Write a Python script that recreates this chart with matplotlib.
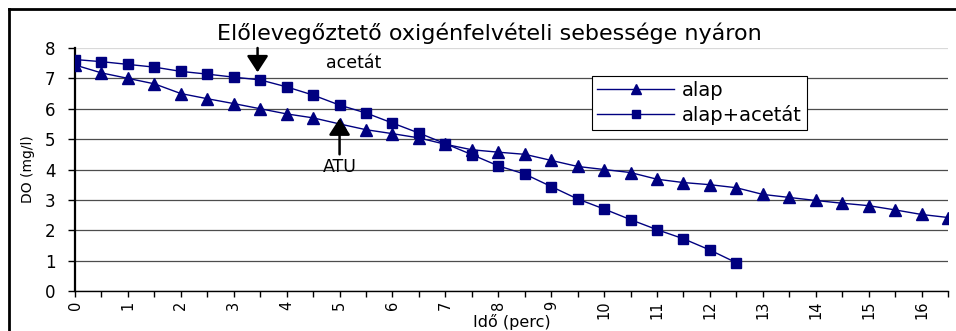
import matplotlib
matplotlib.use("Agg")
import matplotlib.pyplot as plt
from matplotlib.lines import Line2D

plt.rcParams['font.family'] = ['DejaVu Sans']

# Time axis (minutes) and dissolved oxygen readings (mg/l)
minutes = [0, 0.5, 1, 1.5, 2, 2.5, 3, 3.5, 4, 4.5, 5, 5.5, 6, 6.5, 7, 7.5,
           8, 8.5, 9, 9.5, 10, 10.5, 11, 11.5, 12, 12.5, 13, 13.5, 14, 14.5,
           15, 15.5, 16, 16.5]
alap = [7.44, 7.18, 7.00, 6.82, 6.50, 6.33, 6.17, 6.00, 5.83, 5.70, 5.50,
        5.31, 5.18, 5.04, 4.83, 4.65, 4.57, 4.50, 4.30, 4.10, 4.00, 3.90,
        3.68, 3.57, 3.50, 3.40, 3.18, 3.08, 2.98, 2.89, 2.81, 2.67, 2.52,
        2.42]
alap_acetat = [7.62, 7.55, 7.46, 7.37, 7.23, 7.14, 7.04, 6.95, 6.72, 6.45,
               6.12, 5.86, 5.53, 5.20, 4.85, 4.49, 4.12, 3.85, 3.44, 3.03,
               2.70, 2.35, 2.02, 1.72, 1.35, 0.93]

series_labels = ["alap", "alap+acetát"]
title = "Előlevegőztető oxigénfelvételi sebessége nyáron"
x_label = "Idő (perc)"
y_label = "DO (mg/l)"
x_tick_values = [0, 1, 2, 3, 4, 5, 6, 7, 8, 9, 10, 11, 12, 13, 14, 15, 16]
y_tick_values = [0, 1, 2, 3, 4, 5, 6, 7, 8]

# Event markers: acetate dosing and ATU addition
acetat_time, acetat_tip, acetat_tail = 3.45, 7.2, 8.0
atu_time, atu_tip, atu_tail = 5.0, 5.68, 4.5

navy = "#000080"

fig = plt.figure(figsize=(9.56, 3.31), dpi=100)
ax = fig.add_axes([0.0785, 0.1208, 0.9131, 0.7342])

ax.plot(minutes, alap, color=navy, lw=1.0, marker="^", markersize=8.5,
        label=series_labels[0], zorder=3)
ax.plot(minutes[:len(alap_acetat)], alap_acetat, color=navy, lw=1.0,
        marker="s", markersize=7, label=series_labels[1], zorder=3)

ax.set_xlim(0, 16.5)
ax.set_ylim(0, 8)

ax.set_xticks(x_tick_values)
ax.set_xticks(minutes, minor=True)
ax.set_xticklabels([str(v) for v in x_tick_values], rotation=90, fontsize=10.5)
ax.set_yticks(y_tick_values)
ax.set_yticklabels([str(v) for v in y_tick_values], fontsize=12)
ax.tick_params(axis="x", which="both", direction="out", length=4, width=1,
               color="black", pad=3)
ax.tick_params(axis="y", direction="out", length=5, width=1, color="black",
               pad=9)

ax.grid(axis="y", color="0.3", lw=0.9)
ax.yaxis.get_gridlines()[-1].set_color("0.85")
ax.set_axisbelow(True)
for side in ("top", "right"):
    ax.spines[side].set_visible(False)
ax.spines["left"].set_linewidth(1.6)
ax.spines["bottom"].set_linewidth(1.0)

ax.set_xlabel(x_label, fontsize=11.5)
ax.xaxis.set_label_coords(0.5, -0.128)
ax.xaxis.label.set_va("center")
ax.set_ylabel(y_label, fontsize=10)
ax.yaxis.set_label_coords(-0.054, 0.5)
ax.yaxis.label.set_va("center")

fig.text(0.512, 0.90, title, fontsize=16, ha="center", va="center")

arrow_style = dict(arrowstyle="-|>,head_width=0.65,head_length=1.0",
                   color="black", lw=1.8, shrinkA=0, shrinkB=0)
ax.annotate("", xy=(acetat_time, acetat_tip), xytext=(acetat_time, acetat_tail),
            arrowprops=arrow_style, annotation_clip=False)
ax.annotate("", xy=(atu_time, atu_tip), xytext=(atu_time, atu_tail),
            arrowprops=arrow_style, annotation_clip=False)
ax.text(5.26, 7.52, "acetát", fontsize=12.5, ha="center", va="center")
ax.text(5.0, 4.09, "ATU", fontsize=12.5, ha="center", va="center")

leg = ax.legend(loc="upper left", bbox_to_anchor=(0.592, 0.885),
                fontsize=14, frameon=True, fancybox=False, framealpha=1,
                edgecolor="black", borderpad=0.25, handlelength=4.0,
                handletextpad=0.4, labelspacing=0.25, borderaxespad=0,
                markerscale=0.85)
leg.get_frame().set_linewidth(0.8)

# Chart border along top and left edges
fig.add_artist(Line2D([9 / 956, 1.0], [1 - 9 / 331, 1 - 9 / 331],
                      transform=fig.transFigure, color="black", lw=2))
fig.add_artist(Line2D([9 / 956, 9 / 956], [0, 1 - 9 / 331],
                      transform=fig.transFigure, color="black", lw=2))

fig.savefig("out.png", dpi=100)
